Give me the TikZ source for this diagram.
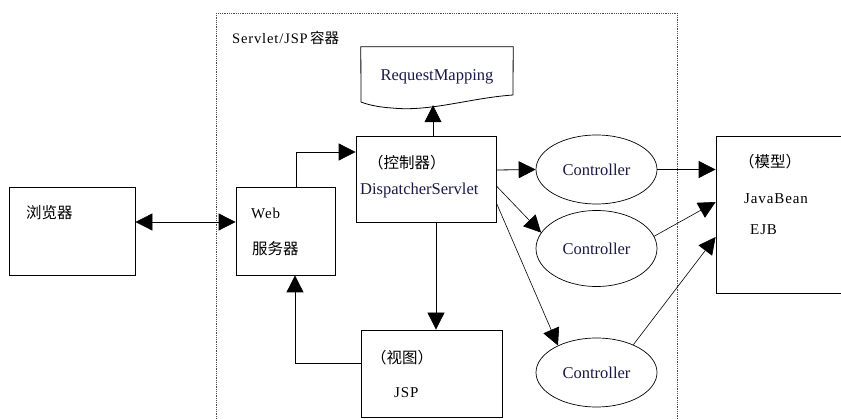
\documentclass[tikz,border=0pt]{standalone}
\usepackage{fontspec}
\setmainfont{Liberation Serif}
\newfontfamily\cjk{Noto Sans CJK SC}
\newfontfamily\simlat[LetterSpace=6]{Liberation Serif}
\usetikzlibrary{arrows.meta,shapes.geometric}
\definecolor{navy}{RGB}{25,25,70}
\begin{document}
\begin{tikzpicture}[x=1pt,y=-1pt,
  box/.style={draw,line width=0.8pt,inner sep=0pt},
  ctrl/.style={draw,ellipse,line width=0.7pt,inner sep=0pt,minimum width=121pt,
    font=\fontsize{16.5}{18}\selectfont,text=navy},
  lbl/.style={anchor=west,inner sep=0pt},
  zh/.style={lbl,font=\cjk\fontsize{15.5}{18}\selectfont},
  en/.style={lbl,font=\simlat\fontsize{15}{18}\selectfont},
  arr/.style={line width=0.8pt,-{Triangle[length=17pt,width=17pt]}},
  thinarr/.style={line width=0.6pt,-{Triangle[length=17pt,width=17pt]}},
  container/.style={line width=0.7pt,draw=black!70,dash pattern=on 0.9pt off 0.9pt}]
\useasboundingbox (0,0) rectangle (841,419);
\clip (0,0) rectangle (841,419);
\fill[white] (0,0) rectangle (841,419);

% container boundary
\draw[container] (216,13) rectangle (677,440);
\node[lbl,font=\simlat\fontsize{14.5}{17}\selectfont] (title) at (232,38)
  {Servlet/JSP\,{\cjk\fontsize{14.5}{17}\selectfont 容器}};

% boxes
\node[box,minimum width=126pt,minimum height=88pt] (browser) at (72,231) {};
\node[box,minimum width=99pt,minimum height=88pt] (web) at (285.5,231) {};
\node[box,minimum width=140pt,minimum height=86pt] (disp) at (426,179) {};
\node[box,minimum width=141pt,minimum height=87pt] (jsp) at (431.5,373.5) {};
\node[box,minimum width=134pt,minimum height=157pt] (model) at (783,214.5) {};

% RequestMapping document shape
\node[inner sep=0pt,minimum width=152pt,minimum height=58pt] (rm) at (437,76) {};
\draw[line width=0.8pt] (rm.north west) -- (rm.north east) -- (513,95)
  .. controls (470,98) and (430,112) .. (392,108)
  .. controls (376,107) and (366,104) .. (361,102) -- cycle;
\node[font=\fontsize{16.5}{18}\selectfont,text=navy] (rmtext) at (437,77) {RequestMapping};

% controllers
\node[ctrl,minimum height=69pt] (c1) at (596.5,169.5) {Controller};
\node[ctrl,minimum height=76pt] (c2) at (596.5,248.5) {Controller};
\node[ctrl,minimum height=69pt] (c3) at (596.5,372.5) {Controller};

% texts
\node[zh] (browsertext) at (26,213) {浏览器};
\node[en] (webtext) at (251,213) {Web};
\node[zh] (webtext2) at (252,249) {服务器};
\node[zh] (disptext) at (368,163) {（控制器）};
\node[lbl,font=\fontsize{16.5}{18}\selectfont,text=navy] (disptext2) at (360,191) {DispatcherServlet};
\node[zh] (jsptext) at (371,358) {（视图）};
\node[en] (jsptext2) at (394,393) {JSP};
\node[zh] (modeltext) at (739,162) {（模型）};
\node[en] (modeltext2) at (744,199) {JavaBean};
\node[en] (modeltext3) at (750,230) {EJB};

% connectors
\draw[line width=0.8pt,{Triangle[length=17pt,width=17pt]}-{Triangle[length=17pt,width=17pt]}]
  ([yshift=9pt]browser.east) -- ([yshift=9pt]web.west);
\draw[arr] ([xshift=10.5pt]web.north) |- ([yshift=27pt]disp.west);
\draw[arr] ([xshift=7pt]disp.north) -- ([xshift=7pt]disp.north |- rm.south);
\draw[arr] ([xshift=10pt]disp.south) -- ([xshift=10pt]disp.south |- jsp.north);
\draw[arr] ([yshift=10.5pt]jsp.west) -| ([xshift=9.5pt]web.south);
\draw[arr] ([yshift=9pt]disp.east) -- (c1.west);
\draw[arr] (c1.east) -- (c1.east -| model.west);
\draw[thinarr] ([yshift=-7pt]disp.east) -- (c2.164);
\draw[thinarr] ([yshift=-24pt]disp.east) -- (c3.145);
\draw[thinarr] (c2.12) -- ([yshift=12.5pt]model.west);
\draw[thinarr] (c3.37) -- ([yshift=-22.5pt]model.west);
\end{tikzpicture}
\end{document}
